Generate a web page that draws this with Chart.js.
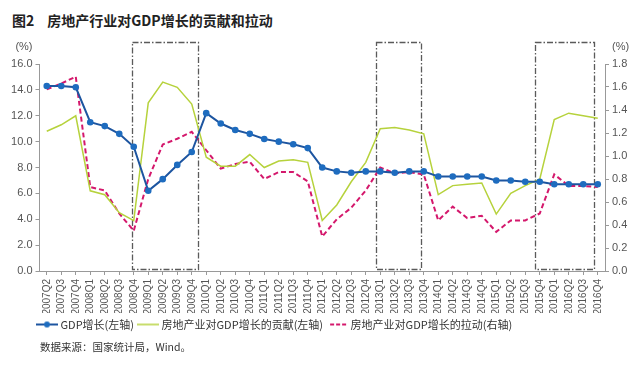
<!DOCTYPE html>
<html>
<head>
<meta charset="utf-8">
<script src="https://cdn.jsdelivr.net/npm/chart.js@4.4.0/dist/chart.umd.min.js"></script>
<style>
  body { margin: 0; background: #fff; width: 640px; height: 366px; overflow: hidden; position: relative;
         font-family: "Noto Sans CJK SC", sans-serif; }
  #title { position: absolute; left: 12px; top: 10px; line-height: 20px; font-size: 14px; font-weight: bold; color: #222; }
  #title span { margin-right: 13px; }
  #wrap { position: absolute; left: 0; top: 30px; width: 640px; height: 310px; }
  #source { position: absolute; left: 40px; top: 340px; line-height: 14px; font-size: 10.5px; color: #333; }
</style>
</head>
<body>
<div id="title"><span>图2</span>房地产行业对GDP增长的贡献和拉动</div>
<div id="wrap"><canvas id="myChart" width="640" height="310"></canvas></div>
<div id="source">数据来源：国家统计局，Wind。</div>
<script>
const quarters = [
  '2007Q2', '2007Q3', '2007Q4',
  '2008Q1', '2008Q2', '2008Q3', '2008Q4',
  '2009Q1', '2009Q2', '2009Q3', '2009Q4',
  '2010Q1', '2010Q2', '2010Q3', '2010Q4',
  '2011Q1', '2011Q2', '2011Q3', '2011Q4',
  '2012Q1', '2012Q2', '2012Q3', '2012Q4',
  '2013Q1', '2013Q2', '2013Q3', '2013Q4',
  '2014Q1', '2014Q2', '2014Q3', '2014Q4',
  '2015Q1', '2015Q2', '2015Q3', '2015Q4',
  '2016Q1', '2016Q2', '2016Q3', '2016Q4'
];

// GDP增长 (左轴, %)
const gdpGrowth = [14.3, 14.3, 14.2, 11.5, 11.2, 10.6, 9.6, 6.2, 7.1, 8.2, 9.2, 12.2, 11.4, 10.9, 10.6,
  10.2, 10.0, 9.8, 9.5, 8.0, 7.7, 7.6, 7.7, 7.7, 7.6, 7.7, 7.7, 7.3, 7.3, 7.3, 7.3,
  7.0, 7.0, 6.9, 6.9, 6.7, 6.7, 6.7, 6.7];

// 房地产业对GDP增长的贡献 (左轴, %)
const contribution = [10.8, 11.3, 12.0, 6.2, 5.9, 4.5, 3.9, 13.0, 14.6, 14.2, 12.9, 8.8, 8.1, 8.1, 9.0,
  8.0, 8.5, 8.6, 8.4, 3.9, 5.1, 6.9, 8.4, 11.0, 11.1, 10.9, 10.6, 5.9, 6.6, 6.7, 6.8,
  4.4, 6.0, 6.6, 7.1, 11.7, 12.2, 12.0, 11.8];

// 房地产业对GDP增长的拉动 (右轴, 百分点)
const pull = [1.58, 1.63, 1.69, 0.73, 0.70, 0.50, 0.35, 0.80, 1.10, 1.15, 1.21, 1.05, 0.89, 0.93, 0.95,
  0.80, 0.86, 0.86, 0.78, 0.30, 0.45, 0.55, 0.70, 0.90, 0.85, 0.86, 0.84, 0.44, 0.56, 0.46, 0.48,
  0.34, 0.44, 0.44, 0.50, 0.84, 0.74, 0.74, 0.73];

const leftTicks = [0, 2, 4, 6, 8, 10, 12, 14, 16];
const rightTicks = [0, 0.2, 0.4, 0.6, 0.8, 1.0, 1.2, 1.4, 1.6, 1.8];

// dash-dot frames, in category-index units
const frames = [[5.88, 10.43], [22.71, 25.83], [33.7, 37.74]];

const BLUE = '#1d55a0', BLUE_DOT = '#1e6cbf', GREEN = '#b6d23c', PINK = '#d4186c';
const tickFont = { family: '"Liberation Sans", "Noto Sans CJK SC", sans-serif', size: 11 };

function icon(draw) {
  const c = document.createElement('canvas');
  c.width = 22; c.height = 10;
  draw(c.getContext('2d'));
  return c;
}
const legendIcons = [
  icon(g => {
    g.strokeStyle = BLUE; g.lineWidth = 2;
    g.beginPath(); g.moveTo(0, 5); g.lineTo(22, 5); g.stroke();
    g.fillStyle = BLUE_DOT; g.beginPath(); g.arc(11, 5, 3, 0, Math.PI * 2); g.fill();
  }),
  icon(g => {
    g.strokeStyle = GREEN; g.lineWidth = 1.5;
    g.beginPath(); g.moveTo(0, 5); g.lineTo(22, 5); g.stroke();
  }),
  icon(g => {
    g.strokeStyle = PINK; g.lineWidth = 2; g.setLineDash([4, 2]);
    g.beginPath(); g.moveTo(4, 5); g.lineTo(21, 5); g.stroke();
  })
];

const extras = {
  id: 'extras',
  afterLayout(chart) {
    // legend starts under the plot, not at the canvas edge
    chart.legend.left += 25;
    chart.legend.right += 25;
  },
  beforeDatasetsDraw(chart) {
    const { ctx, scales: { x, y } } = chart;
    ctx.save();
    ctx.strokeStyle = '#5a5a5a';
    ctx.lineWidth = 1.3;
    ctx.setLineDash([6, 2, 1.5, 2]);
    const top = Math.round(y.getPixelForValue(17.7)) + 0.5;
    const bottom = Math.round(y.getPixelForValue(0.15)) + 0.5;
    frames.forEach(f => {
      const l = Math.round(x.getPixelForValue(f[0])) + 0.5;
      const r = Math.round(x.getPixelForValue(f[1])) + 0.5;
      ctx.strokeRect(l, top, r - l, bottom - top);
    });
    ctx.restore();
  },
  afterDraw(chart) {
    const { ctx, chartArea } = chart;
    ctx.save();
    ctx.font = '11px "Liberation Sans", sans-serif';
    ctx.fillStyle = '#555';
    ctx.textBaseline = 'middle';
    ctx.textAlign = 'right';
    ctx.fillText('(%)', chartArea.left - 7, chartArea.top - 17);
    ctx.textAlign = 'left';
    ctx.fillText('(%)', chartArea.right + 7, chartArea.top - 17);
    ctx.restore();
  }
};

new Chart(document.getElementById('myChart').getContext('2d'), {
  type: 'line',
  data: {
    labels: quarters,
    datasets: [
      {
        label: 'GDP增长(左轴)', data: gdpGrowth, yAxisID: 'y',
        borderColor: BLUE, borderWidth: 2, pointRadius: 3.3,
        pointBackgroundColor: BLUE_DOT, pointBorderColor: BLUE_DOT, pointBorderWidth: 0
      },
      {
        label: '房地产业对GDP增长的贡献(左轴)', data: contribution, yAxisID: 'y',
        borderColor: GREEN, borderWidth: 1.5, pointRadius: 0
      },
      {
        label: '房地产业对GDP增长的拉动(右轴)', data: pull, yAxisID: 'y1',
        borderColor: PINK, borderWidth: 2, borderDash: [5, 3], pointRadius: 0
      }
    ]
  },
  options: {
    responsive: false,
    animation: false,
    layout: { padding: { left: 8, right: 0, top: 34, bottom: 0 } },
    plugins: {
      title: { display: false },
      tooltip: { enabled: false },
      legend: {
        position: 'bottom',
        align: 'start',
        labels: {
          usePointStyle: true,
          pointStyleWidth: 16,
          boxHeight: 10,
          padding: 6,
          color: '#333',
          font: { family: '"Noto Sans CJK SC", sans-serif', size: 11 },
          generateLabels: chart => chart.data.datasets.map((ds, i) => ({
            text: ds.label, pointStyle: legendIcons[i], datasetIndex: i,
            fillStyle: 'transparent', strokeStyle: 'transparent', lineWidth: 0, hidden: false, fontColor: '#333'
          }))
        }
      }
    },
    scales: {
      x: {
        offset: true,
        afterFit: s => { s.height = 42; },
        grid: { display: true, drawOnChartArea: false, tickLength: 4, color: '#999' },
        border: { color: '#999' },
        ticks: {
          autoSkip: false, minRotation: 90, maxRotation: 90, padding: 4,
          color: '#555', font: { family: tickFont.family, size: 10 }
        }
      },
      y: {
        position: 'left',
        min: 0, max: 16,
        afterFit: s => { s.width = 31.5; },
        afterBuildTicks: s => { s.ticks = leftTicks.map(v => ({ value: v })); },
        grid: { drawOnChartArea: false, tickLength: 4, color: '#999' },
        border: { color: '#999' },
        ticks: { padding: 3, color: '#555', font: tickFont, callback: v => v.toFixed(1) }
      },
      y1: {
        position: 'right',
        min: 0, max: 1.8,
        afterFit: s => { s.width = 35; },
        afterBuildTicks: s => { s.ticks = rightTicks.map(v => ({ value: v })); },
        grid: { drawOnChartArea: false, tickLength: 4, color: '#999' },
        border: { color: '#999' },
        ticks: { padding: 3, color: '#555', font: tickFont, callback: v => v.toFixed(1) }
      }
    }
  },
  plugins: [extras]
});
</script>
</body>
</html>
